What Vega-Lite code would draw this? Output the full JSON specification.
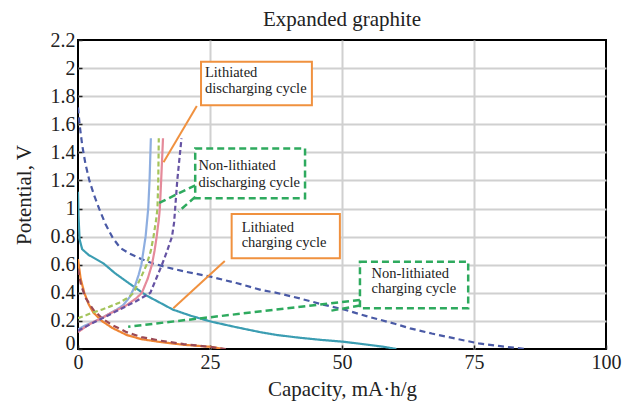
{
  "$schema": "https://vega.github.io/schema/vega-lite/v6.json",
  "autosize": {"type": "none"},
  "padding": {"left": 78, "top": 40, "right": 19, "bottom": 54},
  "width": 528,
  "height": 309,
  "background": "white",
  "title": {"text": "Expanded graphite", "font": "Liberation Serif", "fontSize": 21, "fontWeight": "normal", "color": "#222", "offset": 0},
  "config": {
    "view": {"stroke": "black", "strokeWidth": 2},
    "axis": {"labelFont": "Liberation Serif", "titleFont": "Liberation Serif", "labelFontSize": 20, "titleFontSize": 21, "titleFontWeight": "normal", "labelColor": "#222", "titleColor": "#222", "domain": false, "tickColor": "#222", "tickSize": -4, "tickWidth": 1.5, "labelPadding": 7, "gridWidth": 2, "labelOverlap": false, "labelFlush": false}
  },
  "datasets": {
    "curves": [
      {"s": "teal", "i": 0, "x": 0, "y": 1.12}, {"s": "teal", "i": 1, "x": 0.1, "y": 0.95}, {"s": "teal", "i": 2, "x": 0.3, "y": 0.78}, {"s": "teal", "i": 3, "x": 0.8, "y": 0.71}, {"s": "teal", "i": 4, "x": 2, "y": 0.67}, {"s": "teal", "i": 5, "x": 4.8, "y": 0.61}, {"s": "teal", "i": 6, "x": 7, "y": 0.54}, {"s": "teal", "i": 7, "x": 9.2, "y": 0.48}, {"s": "teal", "i": 8, "x": 11.1, "y": 0.43}, {"s": "teal", "i": 9, "x": 13, "y": 0.38}, {"s": "teal", "i": 10, "x": 15.5, "y": 0.33}, {"s": "teal", "i": 11, "x": 18, "y": 0.28}, {"s": "teal", "i": 12, "x": 21.5, "y": 0.235}, {"s": "teal", "i": 13, "x": 25.3, "y": 0.194}, {"s": "teal", "i": 14, "x": 30, "y": 0.155}, {"s": "teal", "i": 15, "x": 34.5, "y": 0.12}, {"s": "teal", "i": 16, "x": 37.6, "y": 0.1}, {"s": "teal", "i": 17, "x": 42, "y": 0.08}, {"s": "teal", "i": 18, "x": 46, "y": 0.065}, {"s": "teal", "i": 19, "x": 50.2, "y": 0.052}, {"s": "teal", "i": 20, "x": 55, "y": 0.03}, {"s": "teal", "i": 21, "x": 58, "y": 0.015}, {"s": "teal", "i": 22, "x": 60.3, "y": 0},
      {"s": "bluedash", "i": 0, "x": 0, "y": 1.72}, {"s": "bluedash", "i": 1, "x": 0.3, "y": 1.6}, {"s": "bluedash", "i": 2, "x": 0.8, "y": 1.45}, {"s": "bluedash", "i": 3, "x": 1.4, "y": 1.32}, {"s": "bluedash", "i": 4, "x": 2.15, "y": 1.2}, {"s": "bluedash", "i": 5, "x": 3, "y": 1.1}, {"s": "bluedash", "i": 6, "x": 4, "y": 1.0}, {"s": "bluedash", "i": 7, "x": 5.2, "y": 0.89}, {"s": "bluedash", "i": 8, "x": 6.6, "y": 0.79}, {"s": "bluedash", "i": 9, "x": 8, "y": 0.72}, {"s": "bluedash", "i": 10, "x": 9.7, "y": 0.68}, {"s": "bluedash", "i": 11, "x": 12, "y": 0.64}, {"s": "bluedash", "i": 12, "x": 14.1, "y": 0.61}, {"s": "bluedash", "i": 13, "x": 17, "y": 0.58}, {"s": "bluedash", "i": 14, "x": 20.4, "y": 0.55}, {"s": "bluedash", "i": 15, "x": 25.1, "y": 0.515}, {"s": "bluedash", "i": 16, "x": 30, "y": 0.47}, {"s": "bluedash", "i": 17, "x": 34.7, "y": 0.42}, {"s": "bluedash", "i": 18, "x": 37.6, "y": 0.4}, {"s": "bluedash", "i": 19, "x": 42, "y": 0.36}, {"s": "bluedash", "i": 20, "x": 46, "y": 0.32}, {"s": "bluedash", "i": 21, "x": 50.5, "y": 0.28}, {"s": "bluedash", "i": 22, "x": 55, "y": 0.23}, {"s": "bluedash", "i": 23, "x": 60, "y": 0.18}, {"s": "bluedash", "i": 24, "x": 62.9, "y": 0.147}, {"s": "bluedash", "i": 25, "x": 67, "y": 0.11}, {"s": "bluedash", "i": 26, "x": 72, "y": 0.07}, {"s": "bluedash", "i": 27, "x": 75.9, "y": 0.04}, {"s": "bluedash", "i": 28, "x": 80, "y": 0.02}, {"s": "bluedash", "i": 29, "x": 84.7, "y": 0},
      {"s": "orange", "i": 0, "x": 0, "y": 0.64}, {"s": "orange", "i": 1, "x": 0.5, "y": 0.5}, {"s": "orange", "i": 2, "x": 1.2, "y": 0.4}, {"s": "orange", "i": 3, "x": 2, "y": 0.32}, {"s": "orange", "i": 4, "x": 2.9, "y": 0.26}, {"s": "orange", "i": 5, "x": 4.5, "y": 0.2}, {"s": "orange", "i": 6, "x": 6.5, "y": 0.15}, {"s": "orange", "i": 7, "x": 9.2, "y": 0.1}, {"s": "orange", "i": 8, "x": 12, "y": 0.07}, {"s": "orange", "i": 9, "x": 15.5, "y": 0.05}, {"s": "orange", "i": 10, "x": 20, "y": 0.03}, {"s": "orange", "i": 11, "x": 25.3, "y": 0.015}, {"s": "orange", "i": 12, "x": 27.5, "y": 0},
      {"s": "reddash", "i": 0, "x": 0, "y": 0.57}, {"s": "reddash", "i": 1, "x": 0.6, "y": 0.45}, {"s": "reddash", "i": 2, "x": 1.5, "y": 0.36}, {"s": "reddash", "i": 3, "x": 2.9, "y": 0.28}, {"s": "reddash", "i": 4, "x": 4.5, "y": 0.22}, {"s": "reddash", "i": 5, "x": 6.5, "y": 0.17}, {"s": "reddash", "i": 6, "x": 9.2, "y": 0.12}, {"s": "reddash", "i": 7, "x": 12, "y": 0.085}, {"s": "reddash", "i": 8, "x": 15.5, "y": 0.06}, {"s": "reddash", "i": 9, "x": 20, "y": 0.035}, {"s": "reddash", "i": 10, "x": 25, "y": 0.015}, {"s": "reddash", "i": 11, "x": 28, "y": 0},
      {"s": "lightblue", "i": 0, "x": 0, "y": 0.14}, {"s": "lightblue", "i": 1, "x": 1.5, "y": 0.17}, {"s": "lightblue", "i": 2, "x": 2.8, "y": 0.19}, {"s": "lightblue", "i": 3, "x": 4.5, "y": 0.22}, {"s": "lightblue", "i": 4, "x": 5.9, "y": 0.25}, {"s": "lightblue", "i": 5, "x": 7.3, "y": 0.28}, {"s": "lightblue", "i": 6, "x": 8.5, "y": 0.31}, {"s": "lightblue", "i": 7, "x": 9.8, "y": 0.37}, {"s": "lightblue", "i": 8, "x": 10.8, "y": 0.45}, {"s": "lightblue", "i": 9, "x": 11.5, "y": 0.53}, {"s": "lightblue", "i": 10, "x": 12, "y": 0.6}, {"s": "lightblue", "i": 11, "x": 12.4, "y": 0.7}, {"s": "lightblue", "i": 12, "x": 12.8, "y": 0.8}, {"s": "lightblue", "i": 13, "x": 13.1, "y": 0.92}, {"s": "lightblue", "i": 14, "x": 13.3, "y": 1.0}, {"s": "lightblue", "i": 15, "x": 13.55, "y": 1.2}, {"s": "lightblue", "i": 16, "x": 13.8, "y": 1.5},
      {"s": "greendash", "i": 0, "x": 0, "y": 0.22}, {"s": "greendash", "i": 1, "x": 1.5, "y": 0.24}, {"s": "greendash", "i": 2, "x": 2.8, "y": 0.26}, {"s": "greendash", "i": 3, "x": 4.5, "y": 0.28}, {"s": "greendash", "i": 4, "x": 5.9, "y": 0.3}, {"s": "greendash", "i": 5, "x": 7.8, "y": 0.33}, {"s": "greendash", "i": 6, "x": 9.7, "y": 0.37}, {"s": "greendash", "i": 7, "x": 10.5, "y": 0.4}, {"s": "greendash", "i": 8, "x": 11.8, "y": 0.5}, {"s": "greendash", "i": 9, "x": 13, "y": 0.6}, {"s": "greendash", "i": 10, "x": 13.8, "y": 0.7}, {"s": "greendash", "i": 11, "x": 14.3, "y": 0.8}, {"s": "greendash", "i": 12, "x": 14.8, "y": 0.92}, {"s": "greendash", "i": 13, "x": 15.05, "y": 1.0}, {"s": "greendash", "i": 14, "x": 15.2, "y": 1.2}, {"s": "greendash", "i": 15, "x": 15.3, "y": 1.5},
      {"s": "pink", "i": 0, "x": 0, "y": 0.12}, {"s": "pink", "i": 1, "x": 1.5, "y": 0.16}, {"s": "pink", "i": 2, "x": 2.8, "y": 0.19}, {"s": "pink", "i": 3, "x": 4.5, "y": 0.22}, {"s": "pink", "i": 4, "x": 5.9, "y": 0.25}, {"s": "pink", "i": 5, "x": 7.5, "y": 0.28}, {"s": "pink", "i": 6, "x": 9.1, "y": 0.31}, {"s": "pink", "i": 7, "x": 11, "y": 0.36}, {"s": "pink", "i": 8, "x": 12.1, "y": 0.4}, {"s": "pink", "i": 9, "x": 13.2, "y": 0.5}, {"s": "pink", "i": 10, "x": 14, "y": 0.6}, {"s": "pink", "i": 11, "x": 14.5, "y": 0.7}, {"s": "pink", "i": 12, "x": 14.9, "y": 0.8}, {"s": "pink", "i": 13, "x": 15.3, "y": 0.92}, {"s": "pink", "i": 14, "x": 15.5, "y": 1.0}, {"s": "pink", "i": 15, "x": 15.75, "y": 1.2}, {"s": "pink", "i": 16, "x": 16.1, "y": 1.5},
      {"s": "purpledash", "i": 0, "x": 0, "y": 0.13}, {"s": "purpledash", "i": 1, "x": 2.5, "y": 0.18}, {"s": "purpledash", "i": 2, "x": 4.7, "y": 0.22}, {"s": "purpledash", "i": 3, "x": 7.8, "y": 0.28}, {"s": "purpledash", "i": 4, "x": 11, "y": 0.34}, {"s": "purpledash", "i": 5, "x": 13.7, "y": 0.4}, {"s": "purpledash", "i": 6, "x": 14.8, "y": 0.5}, {"s": "purpledash", "i": 7, "x": 15.9, "y": 0.6}, {"s": "purpledash", "i": 8, "x": 16.9, "y": 0.7}, {"s": "purpledash", "i": 9, "x": 17.8, "y": 0.8}, {"s": "purpledash", "i": 10, "x": 18.2, "y": 0.9}, {"s": "purpledash", "i": 11, "x": 18.4, "y": 1.0}, {"s": "purpledash", "i": 12, "x": 18.8, "y": 1.2}, {"s": "purpledash", "i": 13, "x": 19.2, "y": 1.35}, {"s": "purpledash", "i": 14, "x": 19.6, "y": 1.5}
    ],
    "pointers": [
      {"k": "orange", "x": 22.5, "y": 1.73, "x2": 16.2, "y2": 1.33},
      {"k": "green", "x": 22.2, "y": 1.165, "x2": 15.2, "y2": 1.037},
      {"k": "green", "x": 22.2, "y": 1.083, "x2": 19.0, "y2": 0.977},
      {"k": "orange", "x": 27.8, "y": 0.626, "x2": 18.05, "y2": 0.29},
      {"k": "green", "x": 53.4, "y": 0.349, "x2": 9.5, "y2": 0.159},
      {"k": "green", "x": 53.4, "y": 0.31, "x2": 47.5, "y2": 0.27}
    ],
    "boxes": [
      {"k": "orange", "x": 23.3, "x2": 44.3, "y": 2.045, "y2": 1.735},
      {"k": "green", "x": 22.2, "x2": 43.0, "y": 1.428, "y2": 1.073},
      {"k": "orange", "x": 29.1, "x2": 49.6, "y": 0.961, "y2": 0.646},
      {"k": "green", "x": 53.4, "x2": 73.9, "y": 0.621, "y2": 0.29}
    ],
    "labels": [
      {"t": "Lithiated", "x": 24.05, "y": 1.938},
      {"t": "discharging cycle", "x": 24.05, "y": 1.82},
      {"t": "Non-lithiated", "x": 22.8, "y": 1.274},
      {"t": "discharging cycle", "x": 22.8, "y": 1.155},
      {"t": "Lithiated", "x": 31.0, "y": 0.835},
      {"t": "charging cycle", "x": 31.0, "y": 0.728},
      {"t": "Non-lithiated", "x": 55.6, "y": 0.503},
      {"t": "charging cycle", "x": 55.6, "y": 0.396}
    ]
  },
  "layer": [
    {
      "data": {"name": "curves"},
      "mark": {"type": "line", "strokeWidth": 2.2, "clip": true},
      "encoding": {
        "x": {"field": "x", "type": "quantitative", "scale": {"domain": [0, 100], "nice": false, "zero": false},
          "axis": {"title": "Capacity, mA·h/g", "values": [0, 25, 50, 75, 100], "tickCount": 20, "titlePadding": 6, "labelOverlap": false,
            "gridColor": {"condition": {"test": "datum.value <= 0 || datum.value >= 100", "value": "rgba(0,0,0,0)"}, "value": "#d0d0d0"}}},
        "y": {"field": "y", "type": "quantitative", "scale": {"domain": [0, 2.2], "nice": false, "zero": false},
          "axis": {"title": "Potential, V", "values": [0, 0.2, 0.4, 0.6, 0.8, 1, 1.2, 1.4, 1.6, 1.8, 2, 2.2], "tickCount": 30, "format": "~g", "titlePadding": 16, "labelPadding": 7, "labelOverlap": false, "labelBound": false,
            "labelBaseline": {"condition": {"test": "datum.value === 0", "value": "alphabetic"}, "value": "middle"},
            "gridColor": {"condition": {"test": "datum.value <= 0 || datum.value >= 2.19", "value": "rgba(0,0,0,0)"}, "value": "#d0d0d0"}}},
        "color": {"field": "s", "type": "nominal", "legend": null,
          "scale": {"domain": ["teal", "bluedash", "orange", "reddash", "lightblue", "greendash", "pink", "purpledash"],
            "range": ["#3b9db2", "#4a5aa6", "#ee8433", "#9b4a55", "#8eaee0", "#a4c45c", "#e58a9a", "#6553a3"]}},
        "strokeDash": {"field": "s", "type": "nominal", "legend": null,
          "scale": {"domain": ["teal", "bluedash", "orange", "reddash", "lightblue", "greendash", "pink", "purpledash"],
            "range": [[1, 0], [6, 4], [1, 0], [6, 4], [1, 0], [5, 3], [1, 0], [5, 3]]}},
        "order": {"field": "i", "type": "quantitative"}
      }
    },
    {
      "data": {"name": "pointers"},
      "transform": [{"filter": "datum.k === 'orange'"}],
      "mark": {"type": "rule", "color": "#f0913f", "strokeWidth": 2},
      "encoding": {"x": {"field": "x", "type": "quantitative"}, "y": {"field": "y", "type": "quantitative"}, "x2": {"field": "x2"}, "y2": {"field": "y2"}}
    },
    {
      "data": {"name": "pointers"},
      "transform": [{"filter": "datum.k === 'green'"}],
      "mark": {"type": "rule", "color": "#2eaa5e", "strokeWidth": 2.5, "strokeDash": [7, 4]},
      "encoding": {"x": {"field": "x", "type": "quantitative"}, "y": {"field": "y", "type": "quantitative"}, "x2": {"field": "x2"}, "y2": {"field": "y2"}}
    },
    {
      "data": {"name": "boxes"},
      "transform": [{"filter": "datum.k === 'orange'"}],
      "mark": {"type": "rect", "fill": "white", "stroke": "#f0913f", "strokeWidth": 2},
      "encoding": {"x": {"field": "x", "type": "quantitative"}, "y": {"field": "y", "type": "quantitative"}, "x2": {"field": "x2"}, "y2": {"field": "y2"}}
    },
    {
      "data": {"name": "boxes"},
      "transform": [{"filter": "datum.k === 'green'"}],
      "mark": {"type": "rect", "fill": "white", "stroke": "#2eaa5e", "strokeWidth": 2.5, "strokeDash": [7, 4]},
      "encoding": {"x": {"field": "x", "type": "quantitative"}, "y": {"field": "y", "type": "quantitative"}, "x2": {"field": "x2"}, "y2": {"field": "y2"}}
    },
    {
      "data": {"name": "labels"},
      "mark": {"type": "text", "align": "left", "baseline": "alphabetic", "font": "Liberation Serif", "fontSize": 14.5, "color": "#222"},
      "encoding": {"x": {"field": "x", "type": "quantitative"}, "y": {"field": "y", "type": "quantitative"}, "text": {"field": "t"}}
    }
  ]
}
